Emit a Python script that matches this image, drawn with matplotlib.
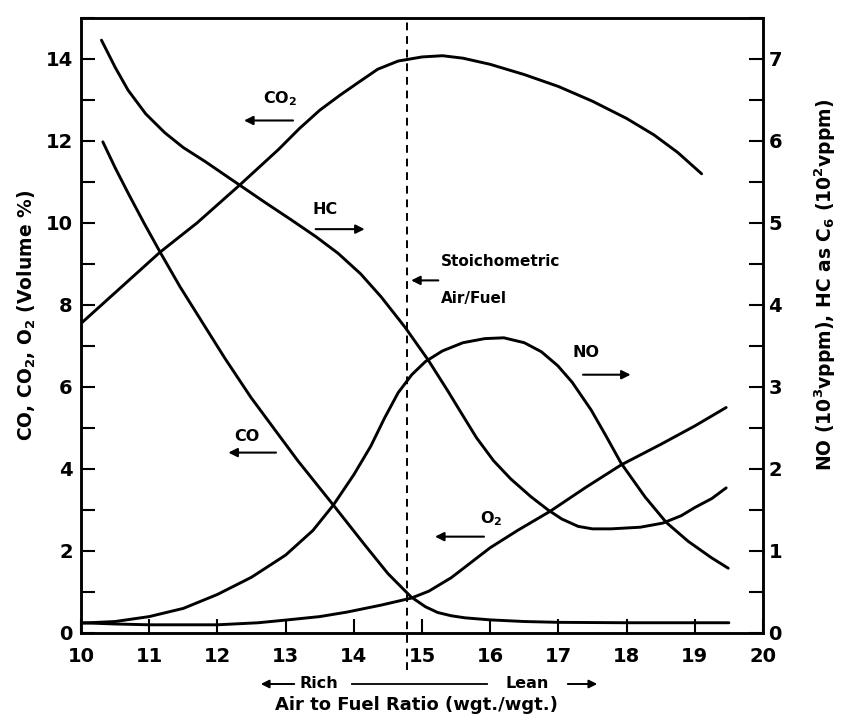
import matplotlib
matplotlib.use("Agg")
import matplotlib.pyplot as plt
from matplotlib.ticker import MultipleLocator

plt.rcParams['font.family'] = ['DejaVu Sans']
plt.rcParams['font.weight'] = 'bold'
plt.rcParams['mathtext.default'] = 'bf'

# Left axis (Volume %)
co2_x = [10.0, 10.5, 11.16, 11.7, 12.33, 12.9, 13.2, 13.5, 13.8, 14.06, 14.35, 14.65, 15.0, 15.3, 15.6,
         16.0, 16.5, 17.0, 17.5, 18.0, 18.4, 18.75, 19.1]
co2_y = [7.55, 8.3, 9.29, 10.0, 10.93, 11.8, 12.3, 12.75, 13.12, 13.42, 13.75, 13.95, 14.05, 14.08, 14.02,
         13.87, 13.62, 13.33, 12.97, 12.55, 12.15, 11.72, 11.2]

co_x = [10.32, 10.5, 10.7, 10.93, 11.16, 11.45, 11.74, 12.11, 12.49, 12.89, 13.18, 13.7, 14.16, 14.5,
        14.84, 15.05, 15.23, 15.43, 15.63, 16.0, 16.5, 17.0, 18.0, 19.5]
co_y = [11.98, 11.35, 10.7, 9.98, 9.29, 8.45, 7.68, 6.7, 5.75, 4.85, 4.2, 3.12, 2.15, 1.45,
        0.88, 0.64, 0.5, 0.42, 0.37, 0.32, 0.28, 0.26, 0.25, 0.25]

o2_x = [10.0, 10.5, 11.0, 12.0, 12.6, 13.03, 13.5, 13.9, 14.4, 14.84, 15.1, 15.43, 15.82, 16.0, 16.4,
        16.88, 17.4, 17.92, 18.5, 19.0, 19.46]
o2_y = [0.25, 0.22, 0.2, 0.2, 0.25, 0.32, 0.4, 0.51, 0.68, 0.85, 1.02, 1.35, 1.85, 2.08, 2.5,
        2.97, 3.55, 4.1, 4.6, 5.05, 5.5]

# Right axis (NO in 10^3 vppm, HC in 10^2 vppm)
hc_x = [10.3, 10.5, 10.69, 10.95, 11.23, 11.5, 11.82, 12.33, 12.7, 13.08, 13.45, 13.77, 14.1, 14.4,
        14.75, 15.09, 15.38, 15.6, 15.8, 16.05, 16.3, 16.6, 16.85, 17.05, 17.29, 17.5, 17.77, 18.2,
        18.53, 18.8, 19.0, 19.25, 19.46]
hc_y = [7.23, 6.9, 6.62, 6.33, 6.1, 5.92, 5.75, 5.46, 5.25, 5.04, 4.83, 4.63, 4.38, 4.1,
        3.73, 3.33, 2.95, 2.65, 2.38, 2.1, 1.88, 1.66, 1.5, 1.39, 1.3, 1.27, 1.27, 1.29,
        1.34, 1.43, 1.53, 1.64, 1.77]

no_x = [10.0, 10.5, 11.0, 11.5, 12.0, 12.5, 13.0, 13.4, 13.7, 14.0, 14.25, 14.45, 14.65, 14.85, 15.05,
        15.3, 15.6, 15.92, 16.2, 16.5, 16.75, 16.99, 17.2, 17.48, 17.7, 17.92, 18.27, 18.58, 18.9,
        19.24, 19.49]
no_y = [0.12, 0.14, 0.2, 0.3, 0.47, 0.68, 0.95, 1.25, 1.56, 1.93, 2.28, 2.62, 2.93, 3.15, 3.31,
        3.44, 3.54, 3.59, 3.6, 3.54, 3.43, 3.26, 3.06, 2.72, 2.4, 2.07, 1.66, 1.35, 1.12,
        0.92, 0.79]

stoich = 14.78

x_ticks = list(range(10, 21))
left_ticks = [0, 2, 4, 6, 8, 10, 12, 14]
right_ticks = [0, 1, 2, 3, 4, 5, 6, 7]

W, H = 842, 720
fig = plt.figure(figsize=(W / 100, H / 100), dpi=100)
ax = fig.add_axes([81 / W, 1 - 633 / H, 682 / W, 615 / H])
ax2 = ax.twinx()

lw = 2.1
style = dict(color='black', lw=lw, solid_joinstyle='round', solid_capstyle='round')
ax.plot(co2_x, co2_y, **style)
ax.plot(co_x, co_y, **style)
ax.plot(o2_x, o2_y, **style)
ax2.plot(hc_x, hc_y, **style)
ax2.plot(no_x, no_y, **style)
ax.plot([stoich, stoich], [-0.9, 15], color='black', lw=1.4, ls=(0, (4, 3)), clip_on=False)

ax.set_xlim(10, 20)
ax.set_ylim(0, 15)
ax2.set_ylim(0, 7.5)
ax.set_xticks(x_ticks)
ax.set_yticks(left_ticks)
ax.yaxis.set_minor_locator(MultipleLocator(1))
ax2.set_yticks(right_ticks)
ax2.yaxis.set_minor_locator(MultipleLocator(0.5))

for a in (ax, ax2):
    a.tick_params(which='both', direction='in', width=1.5, length=10)
    a.tick_params(which='major', labelsize=14)
    for s in a.spines.values():
        s.set_linewidth(1.8)
ax.tick_params(axis='y', pad=6)
ax.tick_params(axis='x', pad=10)
ax2.tick_params(axis='y', pad=4)
for lab in ax.get_xticklabels() + ax.get_yticklabels() + ax2.get_yticklabels():
    lab.set_fontweight('bold')

# Axis labels
fig.text(27 / W, 1 - 315 / H, 'CO, CO$_2$, O$_2$ (Volume %)', rotation=90, ha='center', va='center',
         fontsize=13.5, fontweight='bold')
fig.text(825 / W, 1 - 285 / H, 'NO (10$^3$vppm), HC as C$_6$ (10$^2$vppm)', rotation=90, ha='center',
         va='center', fontsize=13.5, fontweight='bold')
fig.text(416 / W, 1 - 705 / H, 'Air to Fuel Ratio (wgt./wgt.)', ha='center', va='center',
         fontsize=13, fontweight='bold')

# Rich / Lean indicator
ry = 1 - 684 / H
arr_small = dict(arrowstyle='-|>', color='black', lw=1.4, mutation_scale=12)
fig.add_artist(matplotlib.patches.FancyArrowPatch((297 / W, ry), (258 / W, ry), transform=fig.transFigure,
                                                  **arr_small))
fig.text(319 / W, ry, 'Rich', ha='center', va='center', fontsize=11.5, fontweight='bold')
fig.add_artist(matplotlib.lines.Line2D([352 / W, 487 / W], [ry, ry], color='black', lw=1.3,
                                       transform=fig.transFigure))
fig.text(527 / W, ry, 'Lean', ha='center', va='center', fontsize=11.5, fontweight='bold')
fig.add_artist(matplotlib.patches.FancyArrowPatch((565 / W, ry), (600 / W, ry), transform=fig.transFigure,
                                                  **arr_small))

ann = dict(fontsize=11.5, fontweight='bold', color='black')
arr = dict(arrowstyle='-|>', color='black', lw=1.5, mutation_scale=13)

ax.text(12.67, 12.8, 'CO$_2$', ha='left', va='bottom', **ann)
ax.annotate('', xy=(12.35, 12.5), xytext=(13.15, 12.5), arrowprops=arr)

ax.text(13.4, 10.15, 'HC', ha='left', va='bottom', **ann)
ax.annotate('', xy=(14.2, 9.85), xytext=(13.4, 9.85), arrowprops=arr)

ax.text(15.28, 9.05, 'Stoichometric', ha='left', va='center', fontsize=11, fontweight='bold')
ax.text(15.28, 8.15, 'Air/Fuel', ha='left', va='center', fontsize=11, fontweight='bold')
ax.annotate('', xy=(14.8, 8.6), xytext=(15.28, 8.6), arrowprops=arr)

ax.text(17.2, 6.85, 'NO', ha='left', va='center', **ann)
ax.annotate('', xy=(18.1, 6.3), xytext=(17.32, 6.3), arrowprops=arr)

ax.text(12.25, 4.8, 'CO', ha='left', va='center', **ann)
ax.annotate('', xy=(12.12, 4.4), xytext=(12.9, 4.4), arrowprops=arr)

ax.text(15.85, 2.8, 'O$_2$', ha='left', va='center', **ann)
ax.annotate('', xy=(15.15, 2.35), xytext=(15.95, 2.35), arrowprops=arr)

fig.savefig('out.png', dpi=100)
